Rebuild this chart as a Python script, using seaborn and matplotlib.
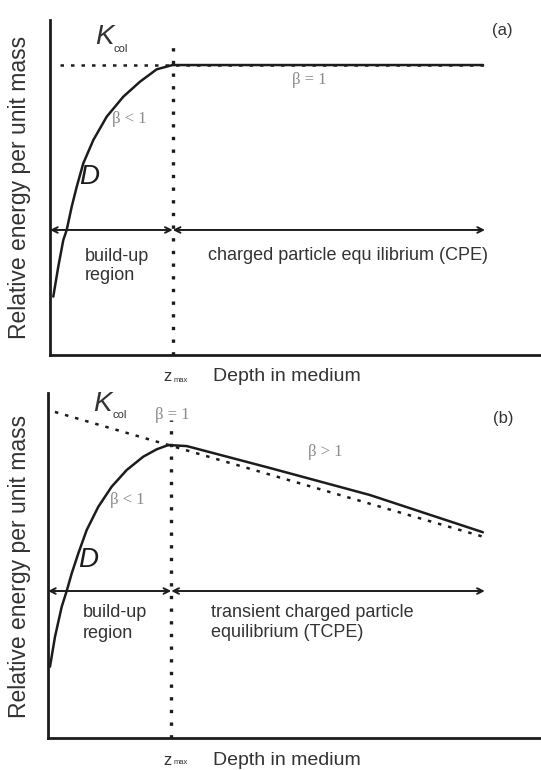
import numpy as np
import pandas as pd
import matplotlib
matplotlib.use("Agg")
import matplotlib.pyplot as plt
import seaborn as sns

# ---------------- data ----------------
# Panel (a): CPE
a_depth = [0.067, 0.169, 0.271, 0.34, 0.442, 0.544, 0.678, 0.882, 1.155, 1.493,
           1.833, 2.173, 2.444, 2.50, 8.82]
a_dose = [-0.404, -0.222, -0.061, 0.0, 0.141, 0.262, 0.404, 0.545, 0.687, 0.808,
          0.899, 0.974, 0.996, 1.0, 1.0]
a_kcol_depth = [0.2, 8.95]
a_kcol = [1.0, 1.0]

# Panel (b): TCPE
b_depth = [0.04, 0.142, 0.278, 0.379, 0.481, 0.615, 0.785, 1.02, 1.292, 1.596,
           1.933, 2.205, 2.44, 2.813, 4.50, 6.53, 8.82]
b_dose = [-0.515, -0.311, -0.107, 0.0, 0.120, 0.256, 0.415, 0.573, 0.710, 0.823,
          0.914, 0.964, 0.993, 0.986, 0.837, 0.653, 0.40]
b_kcol_depth = [0.14, 8.92]
b_kcol = [1.218, 0.36]

z_max = 2.5
axis_end = 8.86

ylabel = "Relative energy per unit mass"
xlabel = "Depth in medium"

sns.set_style("white")
plt.rcParams['font.family'] = ['Liberation Sans', 'DejaVu Sans']

W, H = 541, 770
fig = plt.figure(figsize=(W / 100, H / 100), dpi=100)
fig.patch.set_facecolor("white")

ink = "#1c1c1c"
txt = "#333333"
gray = "#8a8a8a"
serif = "Liberation Serif"


def setup(ax, ylo, yhi):
    ax.set_xlim(0, 10)
    ax.set_ylim(ylo, yhi)
    ax.set_xticks([])
    ax.set_yticks([])
    ax.set_xlabel("")
    ax.set_ylabel("")
    for s in ["top", "right"]:
        ax.spines[s].set_visible(False)
    for s in ["left", "bottom"]:
        ax.spines[s].set_color(ink)
        ax.spines[s].set_linewidth(2.0)
    ax.set_facecolor("white")


def arrows(ax):
    kw = dict(arrowstyle="<->", color=ink, lw=1.4, mutation_scale=10,
              shrinkA=0, shrinkB=0)
    ax.annotate("", xy=(z_max, 0), xytext=(0.0, 0), arrowprops=kw)
    ax.annotate("", xy=(axis_end, 0), xytext=(z_max, 0), arrowprops=kw)


def kcol(ax, kx, ky, cx, cy):
    ax.text(kx, ky, "K", fontsize=20, style="italic", color=txt,
            ha="center", va="center")
    ax.text(cx, cy, "col", fontsize=8, color=txt, ha="center", va="center")


def zmax(ax, zx, y):
    ax.text(zx, y, "z", fontsize=12, color=txt, ha="center", va="center",
            clip_on=False)
    ax.text(zx + 0.27, y - 0.02, "max", fontsize=5.5, color=txt, ha="center",
            va="center", clip_on=False)


# ---------------- panel (a) ----------------
ax1 = fig.add_axes([50 / W, 1 - 355 / H, 1 - 50 / W, (355 - 20) / H])
setup(ax1, -0.758, 1.273)
sns.lineplot(x=a_kcol_depth, y=a_kcol, ax=ax1, color=ink, lw=1.8,
             linestyle=(0, (1.4, 2.8)), sort=False)
sns.lineplot(x=a_depth, y=a_dose, ax=ax1, color=ink, lw=1.8, sort=False)
ax1.plot([z_max, z_max], [-0.758, 1.15], color=ink, lw=2.4,
         linestyle=(0, (1, 2.8)))
arrows(ax1)

kcol(ax1, 1.11, 1.167, 1.44, 1.097)
ax1.text(1.26, 0.67, "β < 1", fontsize=12, color=gray, family=serif,
         ha="left", va="center")
ax1.text(0.8, 0.32, "D", fontsize=20, style="italic", color=ink,
         ha="center", va="center")
ax1.text(4.93, 0.91, "β = 1", fontsize=12, color=gray, family=serif,
         ha="left", va="center")
ax1.text(9.22, 1.21, "(a)", fontsize=12, color=txt, ha="center", va="center")
ax1.text(0.713, -0.158, "build-up", fontsize=13, color=txt, ha="left", va="center")
ax1.text(0.713, -0.279, "region", fontsize=13, color=txt, ha="left", va="center")
ax1.text(3.22, -0.152, "charged particle equ ilibrium (CPE)", fontsize=13,
         color=txt, ha="left", va="center")
zmax(ax1, 2.40, -0.891)
ax1.text(3.32, -0.891, xlabel, fontsize=14, color=txt, ha="left",
         va="center", clip_on=False)
ax1.text(-30 / 491, 0.5, ylabel, fontsize=16.5, color=txt, rotation=90,
         ha="center", va="center", transform=ax1.transAxes, clip_on=False)

# ---------------- panel (b) ----------------
ax2 = fig.add_axes([48 / W, 1 - 738 / H, 1 - 48 / W, (738 - 393) / H])
setup(ax2, -1.0, 1.347)
sns.lineplot(x=b_kcol_depth, y=b_kcol, ax=ax2, color=ink, lw=1.8,
             linestyle=(0, (1.4, 2.8)), sort=False)
sns.lineplot(x=b_depth, y=b_dose, ax=ax2, color=ink, lw=1.8, sort=False)
ax2.plot([z_max, z_max], [-1.0, 1.16], color=ink, lw=2.4,
         linestyle=(0, (1, 2.8)))
arrows(ax2)

kcol(ax2, 1.105, 1.272, 1.45, 1.197)
ax2.text(2.52, 1.197, "β = 1", fontsize=12, color=gray, family=serif,
         ha="center", va="center")
ax2.text(5.27, 0.945, "β > 1", fontsize=12, color=gray, family=serif,
         ha="left", va="center")
ax2.text(9.23, 1.175, "(b)", fontsize=12, color=txt, ha="center", va="center")
ax2.text(1.26, 0.62, "β < 1", fontsize=12, color=gray, family=serif,
         ha="left", va="center")
ax2.text(0.81, 0.21, "D", fontsize=20, style="italic", color=ink,
         ha="center", va="center")
ax2.text(0.71, -0.143, "build-up", fontsize=13, color=txt, ha="left", va="center")
ax2.text(0.71, -0.286, "region", fontsize=13, color=txt, ha="left", va="center")
ax2.text(3.31, -0.143, "transient charged particle", fontsize=13, color=txt,
         ha="left", va="center")
ax2.text(3.31, -0.279, "equilibrium (TCPE)", fontsize=13, color=txt,
         ha="left", va="center")
zmax(ax2, 2.43, -1.15)
ax2.text(3.35, -1.15, xlabel, fontsize=14, color=txt, ha="left",
         va="center", clip_on=False)
ax2.text(-28 / 493, 0.496, ylabel, fontsize=16.5, color=txt, rotation=90,
         ha="center", va="center", transform=ax2.transAxes, clip_on=False)

fig.savefig("out.png", dpi=100, facecolor="white")
